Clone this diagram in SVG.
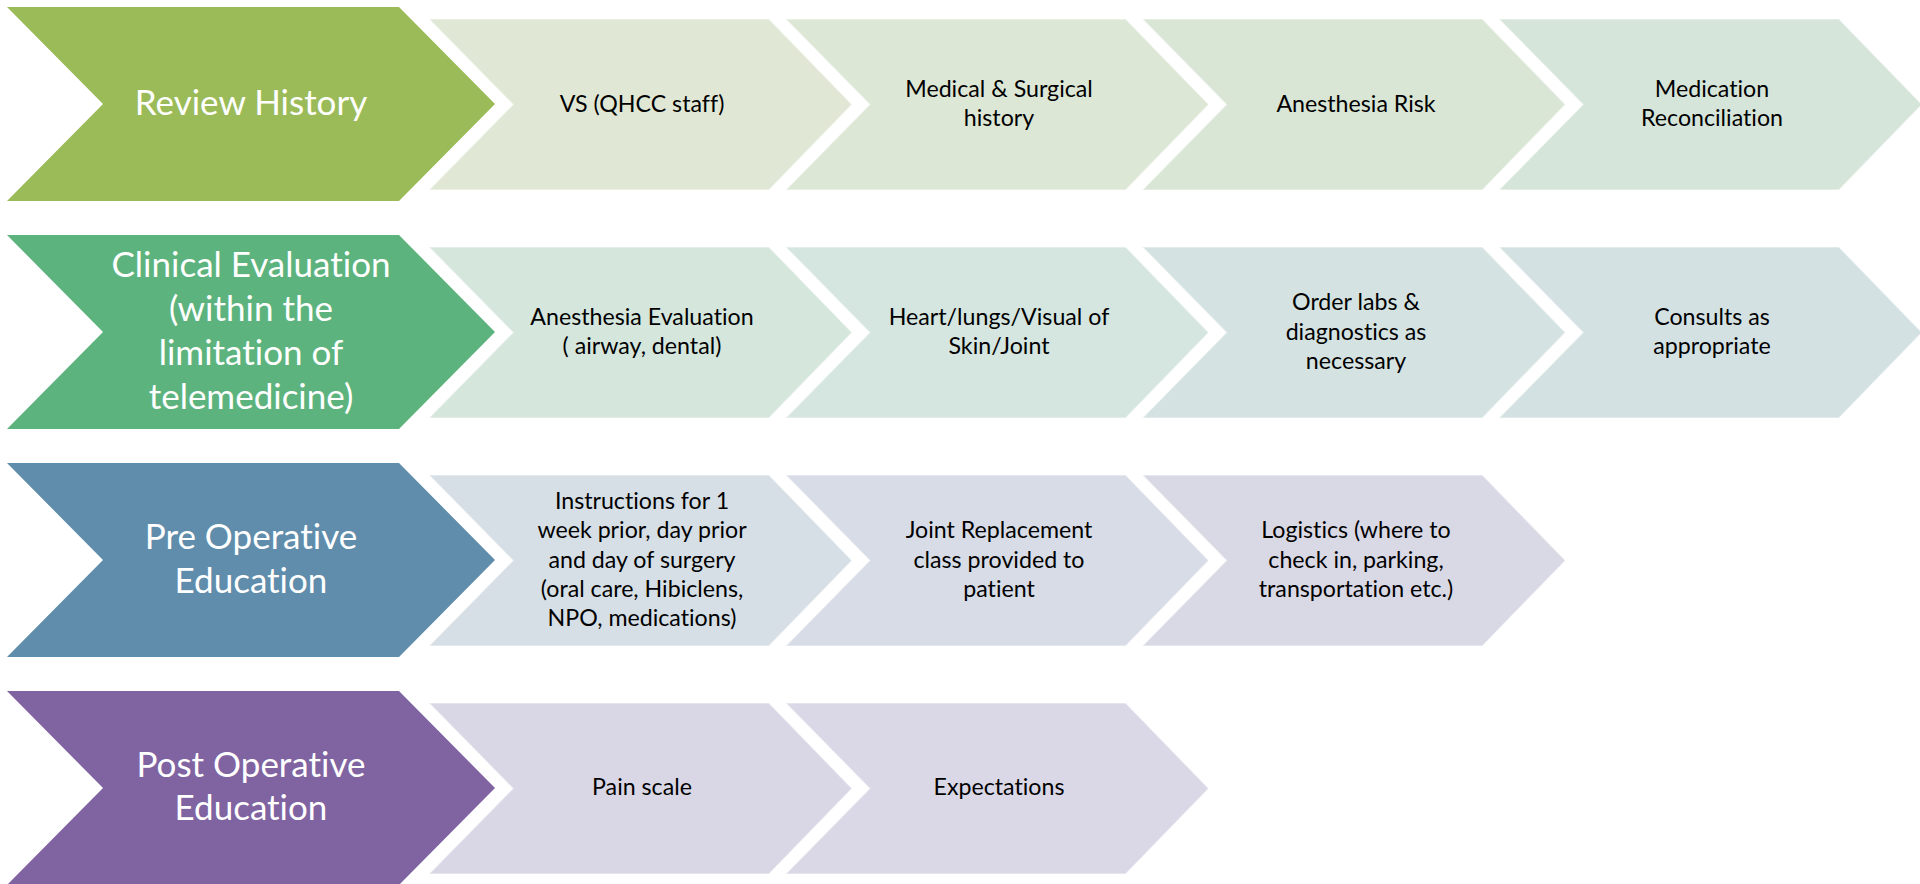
<svg xmlns="http://www.w3.org/2000/svg" width="1920" height="884" viewBox="0 0 1920 884">
<defs>
<style>
.big{stroke:none}
.sm{stroke:#ffffff;stroke-opacity:0.45;stroke-width:1.5}
.bt{font-family:Lato,"Open Sans","Liberation Sans",sans-serif;font-size:35px;fill:#ffffff;text-anchor:middle;font-variant-ligatures:none}
.st{font-family:Lato,"Open Sans","Liberation Sans",sans-serif;font-size:23.2px;fill:#000000;text-anchor:middle;font-variant-ligatures:none}
</style>
<polygon id="bigc" points="0,0 392,0 488,97 392,194 0,194 96,97"/>
<polygon id="smc" points="0,0 340,0 423,85.5 340,171 0,171 84,85.5"/>
</defs>
<rect width="1920" height="884" fill="#ffffff"/>
<g id="connectors"></g>

<g id="review-history">
<use href="#bigc" x="7" y="7" fill="#9BBB59"/>
<text class="bt" x="251" y="115">Review History</text>
</g>
<g id="vs-qhcc">
<use href="#smc" x="429" y="19" fill="#E0E8D5" class="sm"/>
<text class="st" x="642" y="111.7">VS (QHCC staff)</text>
</g>
<g id="medical-surgical">
<use href="#smc" x="785.7" y="19" fill="#DDE7D5" class="sm"/>
<text class="st" x="999" y="97">Medical &amp; Surgical</text>
<text class="st" x="999" y="126.3">history</text>
</g>
<g id="anesthesia-risk">
<use href="#smc" x="1142.4" y="19" fill="#D9E6D6" class="sm"/>
<text class="st" x="1356" y="111.7">Anesthesia Risk</text>
</g>
<g id="medication-reconciliation">
<use href="#smc" x="1499" y="19" fill="#D6E5D9" class="sm"/>
<text class="st" x="1712" y="97">Medication</text>
<text class="st" x="1712" y="126.3">Reconciliation</text>
</g>

<g id="clinical-evaluation">
<use href="#bigc" x="7" y="235" fill="#5DB37E"/>
<text class="bt" x="251" y="277">Clinical Evaluation</text>
<text class="bt" x="251" y="321">(within the</text>
<text class="bt" x="251" y="365">limitation of</text>
<text class="bt" x="251" y="409">telemedicine)</text>
</g>
<g id="anesthesia-evaluation">
<use href="#smc" x="429" y="247" fill="#D5E6DC" class="sm"/>
<text class="st" x="642" y="325">Anesthesia Evaluation</text>
<text class="st" x="642" y="354.3">( airway, dental)</text>
</g>
<g id="heart-lungs">
<use href="#smc" x="785.7" y="247" fill="#D5E5DF" class="sm"/>
<text class="st" x="999" y="325">Heart/lungs/Visual of</text>
<text class="st" x="999" y="354.3">Skin/Joint</text>
</g>
<g id="order-labs">
<use href="#smc" x="1142.4" y="247" fill="#D4E3E1" class="sm"/>
<text class="st" x="1356" y="310.4">Order labs &amp;</text>
<text class="st" x="1356" y="339.7">diagnostics as</text>
<text class="st" x="1356" y="369">necessary</text>
</g>
<g id="consults">
<use href="#smc" x="1499" y="247" fill="#D4E1E3" class="sm"/>
<text class="st" x="1712" y="325">Consults as</text>
<text class="st" x="1712" y="354.3">appropriate</text>
</g>

<g id="pre-operative-education">
<use href="#bigc" x="7" y="463" fill="#5F8DAB"/>
<text class="bt" x="251" y="548.7">Pre Operative</text>
<text class="bt" x="251" y="592.6">Education</text>
</g>
<g id="instructions">
<use href="#smc" x="429" y="475" fill="#D6DFE5" class="sm"/>
<text class="st" x="642" y="508.9">Instructions for 1</text>
<text class="st" x="642" y="538.2">week prior, day prior</text>
<text class="st" x="642" y="567.5">and day of surgery</text>
<text class="st" x="642" y="596.8">(oral care, Hibiclens,</text>
<text class="st" x="642" y="626.1">NPO, medications)</text>
</g>
<g id="joint-replacement-class">
<use href="#smc" x="785.7" y="475" fill="#D7DCE6" class="sm"/>
<text class="st" x="999" y="538.2">Joint Replacement</text>
<text class="st" x="999" y="567.5">class provided to</text>
<text class="st" x="999" y="596.8">patient</text>
</g>
<g id="logistics">
<use href="#smc" x="1142.4" y="475" fill="#D9D9E5" class="sm"/>
<text class="st" x="1356" y="538.2">Logistics (where to</text>
<text class="st" x="1356" y="567.5">check in, parking,</text>
<text class="st" x="1356" y="596.8">transportation etc.)</text>
</g>

<g id="post-operative-education">
<use href="#bigc" x="7" y="691" fill="#8064A2"/>
<text class="bt" x="251" y="776.5">Post Operative</text>
<text class="bt" x="251" y="820.4">Education</text>
</g>
<g id="pain-scale">
<use href="#smc" x="429" y="703" fill="#D9D7E5" class="sm"/>
<text class="st" x="642" y="795.4">Pain scale</text>
</g>
<g id="expectations">
<use href="#smc" x="785.7" y="703" fill="#DAD8E6" class="sm"/>
<text class="st" x="999" y="795.4">Expectations</text>
</g>
</svg>
